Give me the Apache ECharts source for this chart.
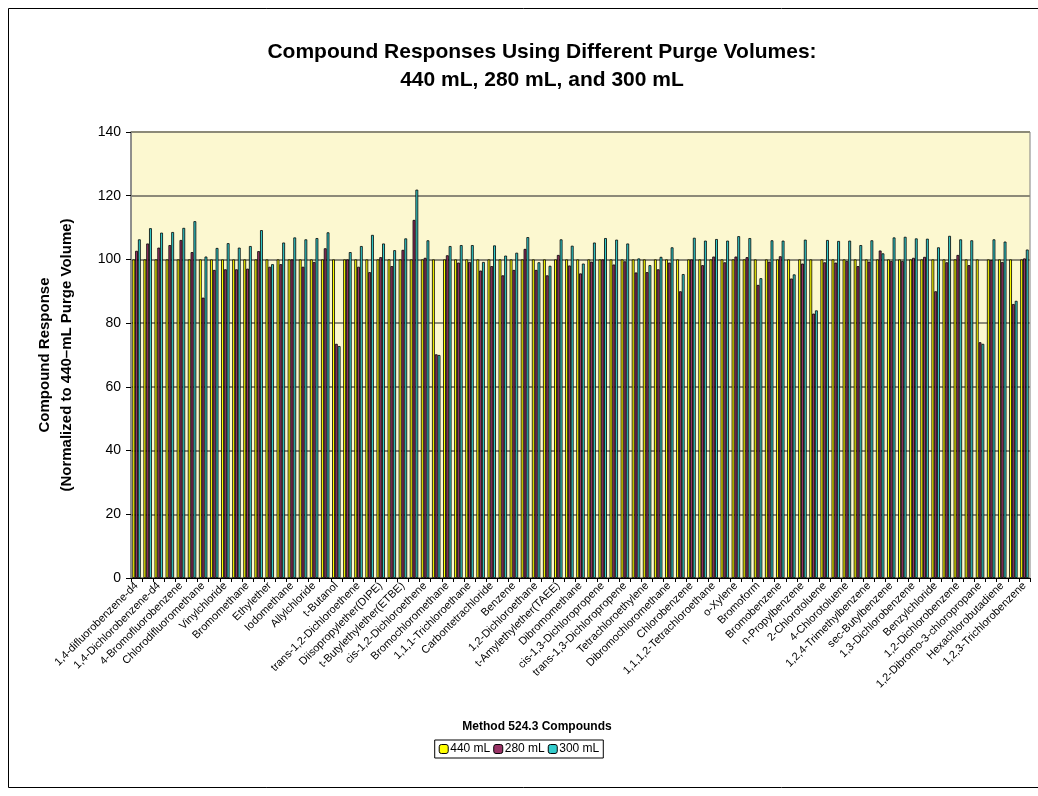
<!DOCTYPE html>
<html><head><meta charset="utf-8">
<script src="https://cdn.jsdelivr.net/npm/echarts@6/dist/echarts.min.js"></script>
<style>html,body{margin:0;padding:0;background:#fff}#c{width:1038px;height:796px}</style>
</head><body><div id="c"></div>
<script>
var categories = ["1,4-difluorobenzene-d4","Chlorobenzene-d5","1,4-Dichlorobenzene-d4","1,2-Dichlorobenzene-d4","4-Bromofluorobenzene","Dichlorodifluoromethane","Chlorodifluoromethane","Chloromethane","Vinylchloride","Chloroethane","Bromomethane","Trichlorofluoromethane","Ethylether","1,1-Dichloroethene","Iodomethane","Carbondisulfide","Allylchloride","Methylenechloride","t-Butanol","Methyl-t-butylether(MTBE)","trans-1,2-Dichloroethene","1,1-Dichloroethane","Diisopropylether(DIPE)","Chloroprene","t-Butylethylether(ETBE)","2,2-Dichloropropane","cis-1,2-Dichloroethene","Tetrahydrofuran","Bromochloromethane","Chloroform","1,1,1-Trichloroethane","1,1-Dichloropropene","Carbontetrachloride","1-Chlorobutane","Benzene","Methacrylonitrile","1,2-Dichloroethane","t-Amylmethylether(TAME)","t-Amylethylether(TAEE)","Trichloroethylene","Dibromomethane","Bromodichloromethane","cis-1,3-Dichloropropene","Toluene","trans-1,3-Dichloropropene","1,1,2-Trichloroethane","Tetrachloroethylene","1,3-Dichloropropane","Dibromochloromethane","1,2-Dibromoethane","Chlorobenzene","Ethylbenzene","1,1,1,2-Tetrachloroethane","m,p-Xylene","o-Xylene","Styrene","Bromoform","Isopropylbenzene","Bromobenzene","1,1,2,2-Tetrachloroethane","n-Propylbenzene","1,2,3-Trichloropropane","2-Chlorotoluene","1,3,5-Trimethylbenzene","4-Chlorotoluene","tert-Butylbenzene","1,2,4-Trimethylbenzene","Pentachloroethane","sec-Butylbenzene","4-Isopropyltoluene","1,3-Dichlorobenzene","1,4-Dichlorobenzene","Benzylchloride","n-Butylbenzene","1,2-Dichlorobenzene","Hexachloroethane","1,2-Dibromo-3-chloropropane","1,2,4-Trichlorobenzene","Hexachlorobutadiene","Naphthalene","1,2,3-Trichlorobenzene"];

var seriesNames = ["440 mL","280 mL","300 mL"];

var v440 = [100,100,100,100,100,100,100,100,100,100,100,100,100,100,100,100,100,100,100,100,100,100,100,100,100,100,100,100,100,100,100,100,100,100,100,100,100,100,100,100,100,100,100,100,100,100,100,100,100,100,100,100,100,100,100,100,100,100,100,100,100,100,100,100,100,100,100,100,100,100,100,100,100,100,100,100,100,100,100,100,100];

var v280 = [102.7,105.0,103.7,104.5,106.1,102.3,88.0,96.7,96.9,96.9,97.1,102.6,97.7,98.5,100.0,97.7,99.2,103.5,73.5,100.0,97.7,96.0,100.7,97.9,103.0,112.4,100.5,70.2,101.3,99.0,99.2,96.5,97.9,95.0,96.7,103.3,96.7,95.0,101.4,98.1,95.6,99.3,100.0,98.4,99.4,95.9,96.0,96.9,99.0,90.0,100.0,98.2,100.9,99.1,100.9,100.7,92.0,99.3,101.0,94.0,98.7,83.0,99.1,99.0,99.5,97.9,99.3,102.8,99.5,99.5,100.5,100.8,90.0,99.1,101.4,98.2,74.0,99.8,99.2,86.0,100.3];

var v300 = [106.3,109.8,108.4,108.6,109.9,112.0,100.9,103.6,105.1,103.7,104.2,109.2,98.5,105.3,106.9,106.3,106.7,108.5,72.8,102.3,104.2,107.7,105.0,102.9,106.6,121.9,106.0,70.0,104.2,104.5,104.5,99.2,104.4,101.2,102.1,107.0,99.1,98.0,106.3,104.3,98.7,105.3,106.7,106.2,105.0,100.3,98.2,100.8,103.8,95.4,106.8,105.9,106.4,105.9,107.3,106.7,94.1,106.0,105.9,95.3,106.2,84.0,106.1,105.8,105.9,104.5,106.0,101.9,106.9,107.1,106.6,106.5,103.8,107.4,106.3,106.0,73.5,106.3,105.6,87.0,103.1];

var yTicks = {min:0, max:140, interval:20};
var colors = ["#FFFF00","#993366","#33CCCC"];

var chart = echarts.init(document.getElementById('c'), null, {renderer:'canvas'});
var vals = [v440, v280, v300];
var series = seriesNames.map(function(n,i){
  return {name:n, type:'bar', data:vals[i], barGap:'0%', barCategoryGap:'24%',
    itemStyle:{color:colors[i], borderColor:'#000', borderWidth:0.8}, animation:false};
});
var FF = 'Liberation Sans, Arial, sans-serif';
chart.setOption({
  animation:false,
  backgroundColor:'#fff',
  textStyle:{fontFamily:FF},
  title:{text:'Compound Responses Using Different Purge Volumes:\n440 mL, 280 mL, and 300 mL', left:537, textAlign:'center', top:33,
    textStyle:{fontSize:21, fontWeight:'bold', color:'#000', lineHeight:28, fontFamily:FF}},
  grid:{left:131, right:8, top:132, bottom:218, show:true, backgroundColor:'#FCF8D0', borderColor:'#808080', borderWidth:1},
  legend:{data:seriesNames, top:740, left:'center', itemWidth:9, itemHeight:9, itemGap:3,
    borderColor:'#000', borderWidth:1, padding:[3,4,3,4],
    textStyle:{fontSize:12, color:'#000', padding:[0,0,0,-3], fontFamily:FF},
    itemStyle:{borderColor:'#000', borderWidth:1}},
  xAxis:{type:'category', data:categories,
    axisLine:{lineStyle:{color:'#000', width:1}},
    axisTick:{show:true, interval:0, length:4, lineStyle:{color:'#000'}},
    axisLabel:{interval:1, rotate:45, fontSize:11, color:'#000', margin:6}},
  yAxis:{type:'value', min:yTicks.min, max:yTicks.max, interval:yTicks.interval,
    name:'Compound Response\n(Normalized to 440\u2013mL Purge Volume)', nameLocation:'middle', nameGap:53, nameRotate:90,
    nameTextStyle:{fontSize:15, fontWeight:'bold', color:'#000', lineHeight:22},
    axisLine:{show:true, lineStyle:{color:'#808080', width:1.5}},
    axisTick:{show:true, length:5, lineStyle:{color:'#000'}},
    axisLabel:{fontSize:14, color:'#000', margin:10},
    splitLine:{lineStyle:{color:'#8C8A78', width:2}}},
  graphic:[
    {type:'rect', shape:{x:8.5, y:8.5, width:1040, height:779}, style:{fill:'none', stroke:'#000', lineWidth:1}, silent:true},
    {type:'text', x:537, y:727, style:{text:'Method 524.3 Compounds', fontSize:12, fontWeight:'bold', fill:'#000', align:'center', verticalAlign:'middle', fontFamily:FF}, silent:true}
  ],
  series:series
});
</script></body></html>
